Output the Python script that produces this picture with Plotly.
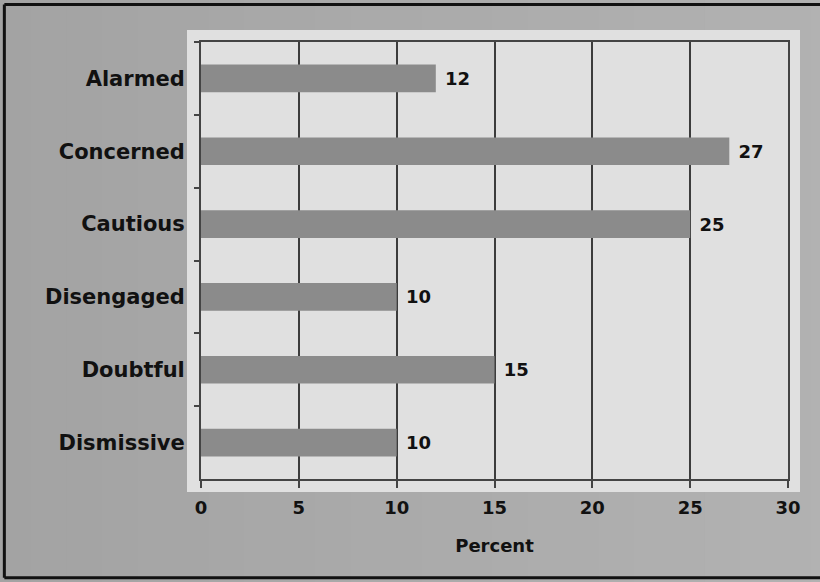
import plotly.graph_objects as go

# Audience segments and share of respondents (percent)
segments = ["Alarmed", "Concerned", "Cautious", "Disengaged", "Doubtful", "Dismissive"]
percent = [12, 27, 25, 10, 15, 10]
x_ticks = [0, 5, 10, 15, 20, 25, 30]

FONT = "DejaVu Sans"
INK = "#111111"

fig = go.Figure(
    go.Bar(
        x=percent,
        y=segments,
        orientation="h",
        width=0.38,
        marker=dict(color="#8b8b8b", line=dict(width=0)),
        text=[f" {v}" for v in percent],
        textposition="outside",
        cliponaxis=False,
        textfont=dict(family=FONT, size=18, color=INK, weight="bold"),
        hoverinfo="skip",
    )
)

shapes = []
# soft left-to-right shading of the backdrop
n_strips = 24
for i in range(n_strips):
    t = i / (n_strips - 1)
    g = int(round(163 + t * (178 - 163)))
    shapes.append(dict(
        type="rect", xref="paper", yref="paper", layer="below",
        x0=-0.35 + i * (1.45 / n_strips), x1=-0.35 + (i + 1) * (1.45 / n_strips) + 0.002,
        y0=-0.3, y1=1.15,
        fillcolor=f"rgb({g},{g},{g})", line=dict(width=0),
    ))
# light panel behind the plot area
shapes.append(dict(
    type="rect", xref="paper", yref="paper", layer="below",
    x0=(187 - 201) / 587, x1=(800 - 201) / 587,
    y0=-(492 - 479) / 437, y1=1 + (42 - 30) / 437,
    fillcolor="#e0e0e0", line=dict(width=0),
))
# dark frame on the top, left and bottom edges
frame = dict(color="#111111", width=3)
for x0, y0, x1, y1 in [(-0.335, 1.086, 1.06, 1.086),
                       (-0.335, -0.226, -0.335, 1.086),
                       (-0.335, -0.226, 1.06, -0.226)]:
    shapes.append(dict(type="line", xref="paper", yref="paper", layer="above",
                       x0=x0, y0=y0, x1=x1, y1=y1, line=frame))

fig.update_layout(
    width=820, height=582,
    margin=dict(l=201, r=32, t=42, b=103),
    paper_bgcolor="#aaaaaa",
    plot_bgcolor="#d4d4d4",
    showlegend=False,
    shapes=shapes,
    font=dict(family=FONT, color=INK),
)

fig.update_xaxes(
    range=[0, 30],
    tickvals=x_ticks,
    ticktext=[str(v) for v in x_ticks],
    showgrid=True, gridcolor="#3c3c3c", gridwidth=1.5,
    zeroline=False,
    showline=True, linecolor="#444444", linewidth=2, mirror=True,
    ticks="outside", ticklen=7, tickcolor="#444444", tickwidth=1.5,
    ticklabelstandoff=4,
    tickfont=dict(family=FONT, size=18, color=INK, weight="bold"),
    title=dict(text="Percent", standoff=23,
               font=dict(family=FONT, size=18, color=INK, weight="bold")),
    fixedrange=True,
)

fig.update_yaxes(
    autorange="reversed",
    showgrid=False,
    showline=True, linecolor="#444444", linewidth=2, mirror=True,
    ticks="outside", tickson="boundaries", ticklen=5, tickcolor="#444444", tickwidth=1.5,
    ticklabelstandoff=10,
    tickfont=dict(family=FONT, size=21, color=INK, weight="bold"),
    fixedrange=True,
)

# keep the page from scrolling: the figure fills the window exactly
fig.write_html(
    "out.html",
    config={"displayModeBar": False},
    post_script="document.documentElement.style.overflow='hidden';"
                "document.body.style.overflow='hidden';"
                "document.body.style.margin='0';",
)
